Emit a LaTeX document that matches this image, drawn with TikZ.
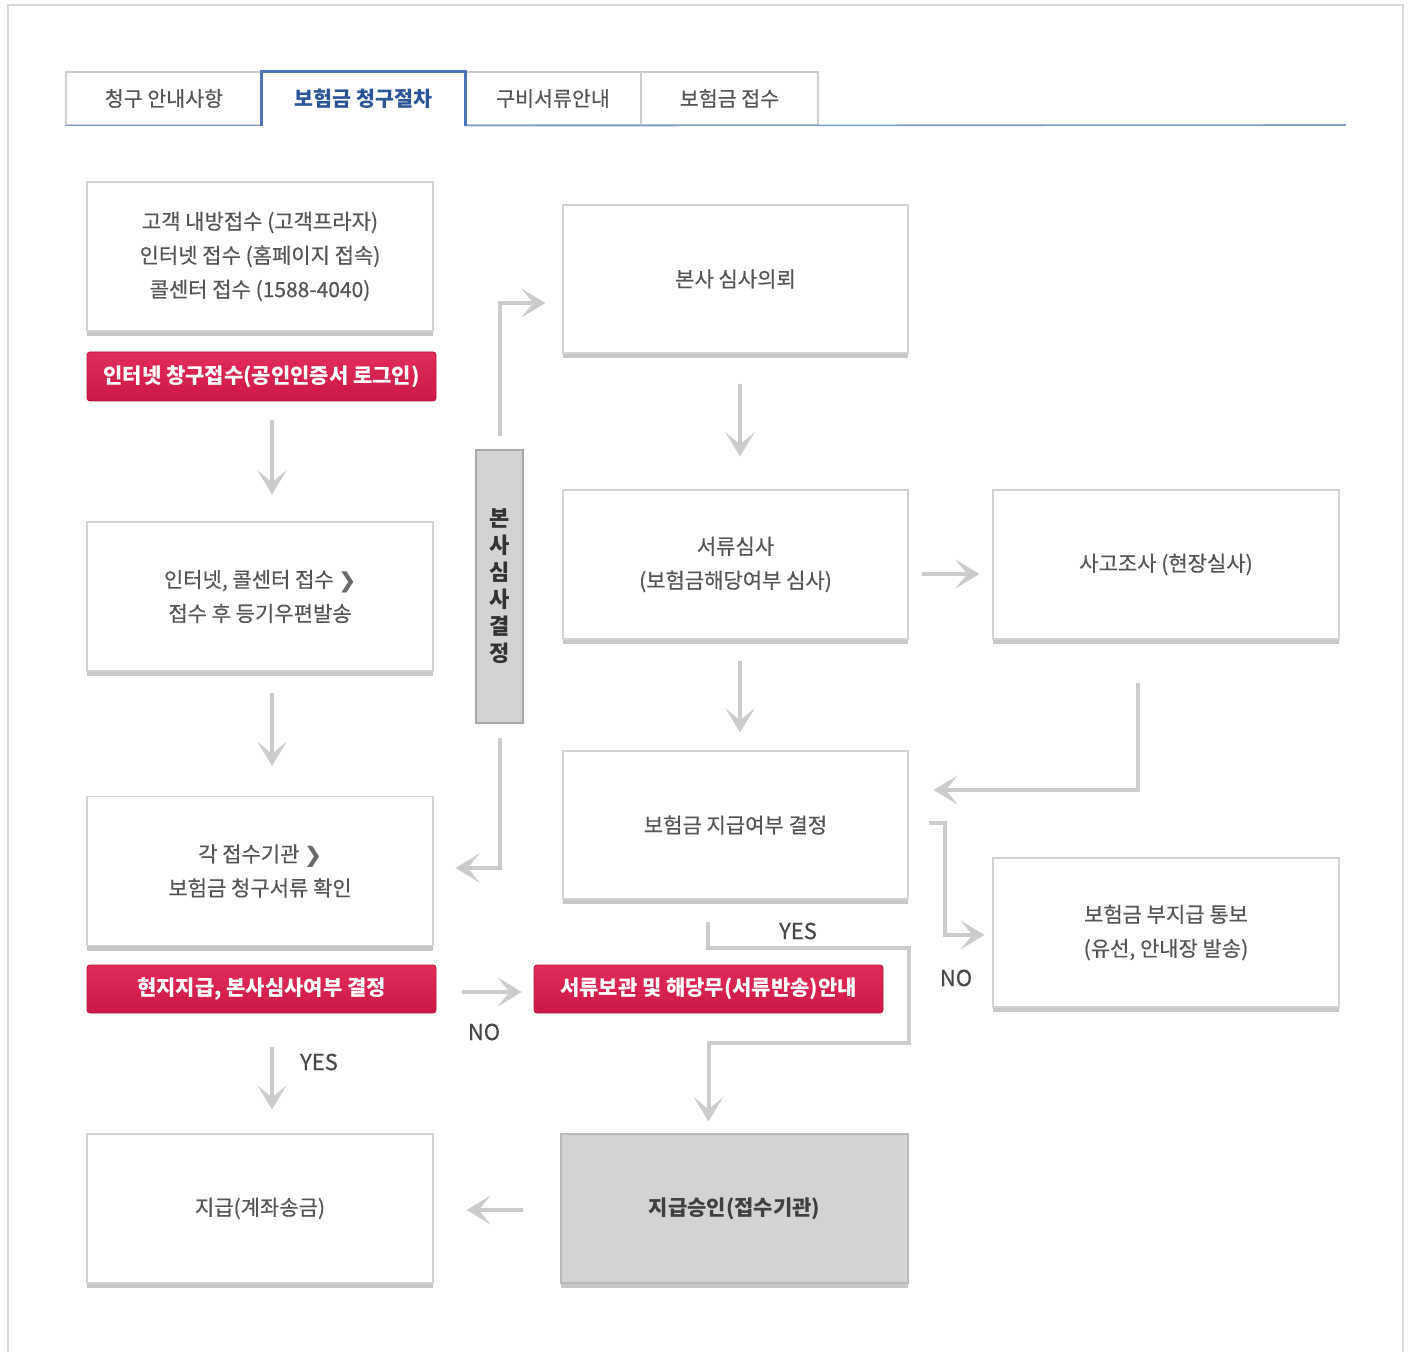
\documentclass[tikz,border=0pt]{standalone}
\usepackage{fontspec}
\setmainfont{Noto Sans CJK KR}
\newfontfamily\regfont[FakeBold=0.45]{Noto Sans CJK KR}
\newfontfamily\dejavu[FakeBold=0.8]{DejaVu Sans}
\usetikzlibrary{arrows.meta,calc,shadows}

\definecolor{boxline}{HTML}{D2D2D2}
\definecolor{txtgray}{HTML}{555555}
\definecolor{redtop}{HTML}{E22C59}
\definecolor{redbot}{HTML}{CC1846}
\definecolor{redline}{HTML}{B8143E}
\definecolor{connc}{HTML}{CBCBCB}
\definecolor{barfill}{HTML}{D3D3D3}
\definecolor{barline}{HTML}{A8A8A8}
\definecolor{tabblue}{HTML}{4C74B6}
\definecolor{tabtext}{HTML}{2B5598}
\definecolor{tabline}{HTML}{CCCCCC}
\definecolor{outer}{HTML}{D8D8D8}
\definecolor{chev}{HTML}{6A6A6A}

\tikzset{
  flowbox/.style={draw=boxline, fill=white, line width=0.6pt, inner sep=0pt,
    minimum width=173pt, minimum height=74.5pt, align=center, text=txtgray,
    font=\regfont\fontsize{10.5}{17}\selectfont,
    drop shadow={shadow xshift=0pt, shadow yshift=-2.5pt, fill=black!22, opacity=1}},
  redbox/.style={draw=redline, line width=0.4pt, rounded corners=1.5pt,
    top color=redtop, bottom color=redbot, inner sep=0pt,
    minimum width=174.5pt, minimum height=24.5pt, text=white,
    font=\bfseries\fontsize{10.5}{12}\selectfont},
  graybox/.style={flowbox, fill=barfill, draw=barline!80, font=\bfseries\fontsize{10.5}{17}\selectfont, text=black!75},
  conn/.style={draw=connc, line width=2pt,
    -{Stealth[length=12pt,width=14.5pt,inset=6pt]}},
  tabbox/.style={draw=tabline, line width=0.6pt, minimum width=98pt, minimum height=26.5pt,
    inner sep=0pt, text=txtgray, font=\regfont\fontsize{10.3}{12}\selectfont},
  lbl/.style={text=black!72, font=\regfont\fontsize{11}{12}\selectfont, inner sep=0pt},
}

\begin{document}
\begin{tikzpicture}[x=0.5pt,y=-0.5pt]
\useasboundingbox (0,0) rectangle (1413,1352);
\fill[white] (0,0) rectangle (1413,1352);
\draw[outer, line width=0.8pt] (8,1352) -- (8,5) -- (1403,5) -- (1403,1352);

% tabs
\node[tabbox] (t1) at (164,98.5) {청구 안내사항};
\node[tabbox, minimum width=101.5pt, draw=none, text=tabtext, font=\bfseries\fontsize{10.3}{12}\selectfont] (t2) at (363.5,98.5) {보험금 청구절차};
\node[tabbox, minimum width=88pt] (t3) at (553,98.5) {구비서류안내};
\node[tabbox, minimum width=88.5pt] (t4) at (729.5,98.5) {보험금 접수};
\draw[tabblue!70, line width=0.8pt] (t1.south west) -- (t2.south west);
\draw[tabblue!70, line width=0.8pt] (t2.south east) -- (1346,125);
\draw[tabblue, line width=1.6pt] (t2.south west) -- (t2.north west) -- (t2.north east) -- (t2.south east);

% left column
\node[flowbox] (b1) at (260,256.5) {고객 내방접수 (고객프라자)\\인터넷 접수 (홈페이지 접속)\\콜센터 접수 (1588-4040)};
\node[redbox] (r1) at (261.5,376.5) {인터넷 창구접수(공인인증서 로그인)};
\node[flowbox] (b2) at (260,596.5) {인터넷, 콜센터 접수 {\dejavu\color{chev}❯}\\접수 후 등기우편발송};
\node[flowbox] (b3) at (260,871) {각 접수기관 {\dejavu\color{chev}❯}\\보험금 청구서류 확인};
\node[redbox, minimum height=24pt] (r2) at (261.5,989) {현지지급, 본사심사여부 결정};
\node[flowbox] (b4) at (260,1208.5) {지급(계좌송금)};

% middle bar
\node[draw=barline, fill=barfill, line width=0.6pt, minimum width=23.5pt, minimum height=136.5pt,
  inner sep=0pt, align=center, text=black!80, font=\bfseries\fontsize{11}{13.5}\selectfont]
  (bar) at (499.5,586.5) {본\\사\\심\\사\\결\\정};

% middle column
\node[flowbox, minimum width=172.5pt, minimum height=74pt] (b5) at (735.5,279) {본사 심사의뢰};
\node[flowbox, minimum width=172.5pt] (b6) at (735.5,564.5) {서류심사\\(보험금해당여부 심사)};
\node[flowbox, minimum width=172.5pt, minimum height=74pt] (b8) at (735.5,825) {보험금 지급여부 결정};
\node[redbox, minimum height=24pt] (r3) at (708.5,989) {서류보관 및 해당무(서류반송)안내};
\node[graybox, minimum width=173.5pt] (b10) at (734.5,1208.5) {지급승인(접수기관)};

% right column
\node[flowbox] (b7) at (1166,564.5) {사고조사 (현장실사)};
\node[flowbox] (b9) at (1166,932.5) {보험금 부지급 통보\\(유선, 안내장 발송)};

% connectors
\draw[conn] ([xshift=5.25pt,yshift=-9.5pt]r1.south) -- ([xshift=6pt,yshift=13.5pt]b2.north);
\draw[conn] ([xshift=6pt,yshift=-10.5pt]b2.south) -- ([xshift=6pt,yshift=15pt]b3.north);
\draw[conn] ([xshift=5.25pt,yshift=-17pt]r2.south) -- ([xshift=6pt,yshift=12pt]b4.north);
\draw[conn] ([xshift=13pt,yshift=-1.5pt]r2.east) -- ([xshift=-6pt,yshift=-1.5pt]r3.west);
\draw[conn] ([xshift=-18.5pt,yshift=-0.75pt]b10.west) -- ([xshift=16.5pt,yshift=-0.75pt]b4.east);

\draw[conn] ([yshift=6.5pt]bar.north) |- ([xshift=-8.5pt,yshift=-12pt]b5.west);
\draw[conn] ([yshift=-7pt]bar.south) |- ([xshift=11pt,yshift=1.5pt]b3.east);

\draw[conn] ([xshift=2.25pt,yshift=-15pt]b5.south) -- ([xshift=2.25pt,yshift=16.5pt]b6.north);
\draw[conn] ([xshift=2.25pt,yshift=-10.5pt]b6.south) -- ([xshift=2.25pt,yshift=9pt]b8.north);
\draw[conn] ([xshift=6.5pt,yshift=-4.75pt]b6.east) -- ([xshift=-6.5pt,yshift=-4.75pt]b7.west);
\draw[conn] ([xshift=-14pt,yshift=-21.5pt]b7.south) |- ([xshift=12.5pt,yshift=17.5pt]b8.east);
\draw[conn] ([xshift=10pt,yshift=1pt]b8.east) -- ++(16,0) |- ([xshift=-4pt,yshift=-1.25pt]b9.west);
\draw[conn] ([xshift=-13.75pt,yshift=-11pt]b8.south) -- ++(0,26) -| ++(201,95) -| ([xshift=-13pt,yshift=6pt]b10.north);

% labels
\node[lbl] (yes1) at (319,1062) {YES};
\node[lbl] (no1) at (484,1032) {NO};
\node[lbl] (yes2) at (798,931) {YES};
\node[lbl] (no2) at (956,978) {NO};
\end{tikzpicture}
\end{document}
